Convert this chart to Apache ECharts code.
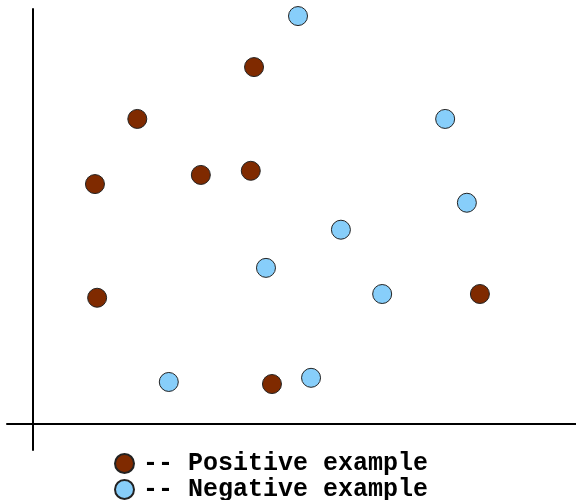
<!DOCTYPE html>
<html>
<head>
<meta charset="utf-8">
<script src="https://cdn.jsdelivr.net/npm/echarts@6/dist/echarts.min.js"></script>
<style>
  html, body { margin: 0; padding: 0; background: #fff; }
  #chart { width: 576px; height: 500px; }
</style>
</head>
<body>
<div id="chart"></div>
<script>
// points, in plot units (origin at the crossing of the axes)
const positivePoints = [
  [4.07, 8.60], [1.92, 7.35], [1.14, 5.78], [3.09, 6.00],
  [4.01, 6.10], [1.18, 3.04], [8.23, 3.13], [4.40, 0.96]
];
const negativePoints = [
  [4.88, 9.83], [7.59, 7.35], [7.99, 5.33], [5.67, 4.68],
  [4.29, 3.76], [6.43, 3.13], [2.50, 1.01], [5.12, 1.11]
];
const seriesNames = ['Positive example', 'Negative example'];
const colors = ['#7f2a00', '#87cefa'];

const chart = echarts.init(document.getElementById('chart'));

const hiddenAxis = (min, max) => ({
  type: 'value',
  min: min,
  max: max,
  axisLine: { onZero: true, lineStyle: { color: '#000', width: 2 } },
  axisTick: { show: false },
  axisLabel: { show: false },
  splitLine: { show: false }
});

// one legend block per line, stacked under the plot
const legendLine = (name, top) => ({
  left: 114,
  top: top,
  padding: 0,
  itemWidth: 19,
  itemHeight: 19,
  icon: 'circle',
  formatter: '-- {name}',
  textStyle: {
    fontFamily: 'Liberation Mono',
    fontWeight: 'bold',
    fontSize: 25,
    lineHeight: 24,
    color: '#000',
    padding: [0, 0, 0, 4]
  },
  data: [name]
});

chart.setOption({
  animation: false,
  grid: { left: 7, right: 0, top: 9, bottom: 50 },
  xAxis: hiddenAxis(-0.48, 10),
  yAxis: hiddenAxis(-0.63, 10),
  legend: [legendLine(seriesNames[0], 451), legendLine(seriesNames[1], 477)],
  series: [
    {
      name: seriesNames[0],
      type: 'scatter',
      data: positivePoints,
      symbolSize: 19,
      itemStyle: { color: colors[0], borderColor: '#222', borderWidth: 1, opacity: 1 }
    },
    {
      name: seriesNames[1],
      type: 'scatter',
      data: negativePoints,
      symbolSize: 19,
      itemStyle: { color: colors[1], borderColor: '#222', borderWidth: 1, opacity: 1 }
    }
  ]
});
</script>
</body>
</html>
